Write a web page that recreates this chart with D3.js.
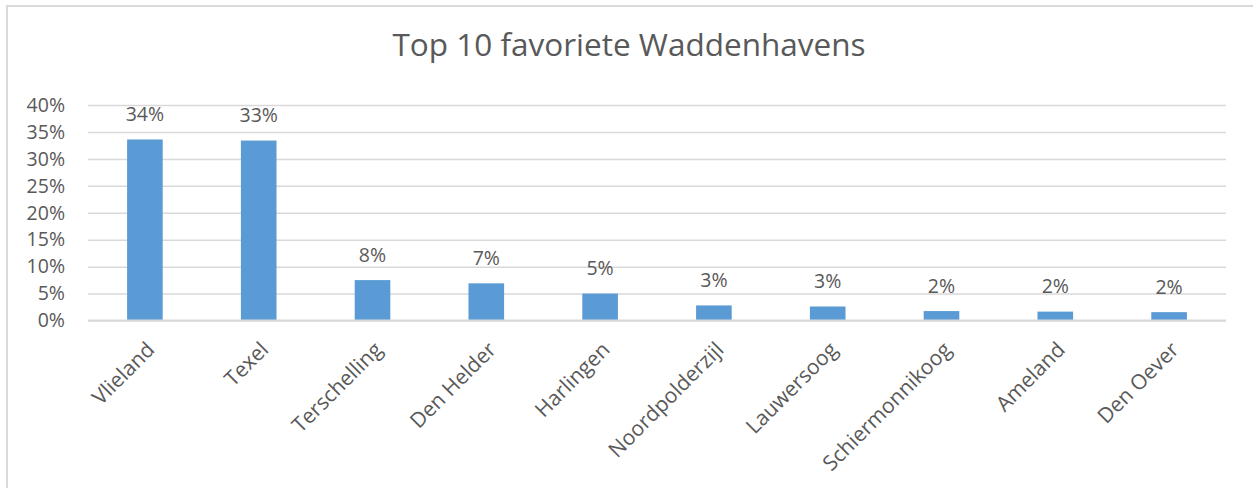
<!DOCTYPE html>
<html>
<head>
<meta charset="utf-8">
<script src="https://cdn.jsdelivr.net/npm/d3@7"></script>
<style>
  body { margin: 0; background: #fff; }
  text { font-family: "Open Sans", sans-serif; fill: #595959; }
</style>
</head>
<body>
<div id="svg_chart"></div>
<script>
// data
var havens = ['Vlieland', 'Texel', 'Terschelling', 'Den Helder', 'Harlingen',
  'Noordpolderzijl', 'Lauwersoog', 'Schiermonnikoog', 'Ameland', 'Den Oever'];
var shares = [33.6, 33.4, 7.5, 6.9, 5.0, 2.8, 2.6, 1.75, 1.65, 1.55];
var y_ticks = [0, 5, 10, 15, 20, 25, 30, 35, 40];
var chart_title = 'Top 10 favoriete Waddenhavens';

const svg_width = 1253
const svg_height = 488
const plot_left = 88
const plot_right = 1226
const plot_top = 105
const plot_bottom = 320.5
const label_size = '19.5px'

var svg = d3.select('#svg_chart').append('svg')
  .attr('width', svg_width)
  .attr('height', svg_height);

// chart border (only top and left visible in the crop)
svg.append('rect')
  .attr('x', 7)
  .attr('y', 6)
  .attr('width', svg_width + 20)
  .attr('height', svg_height + 20)
  .attr('fill', 'none')
  .attr('stroke', '#d9d9d9')
  .attr('stroke-width', 2);

svg.append('text')
  .attr('x', 629)
  .attr('y', 56)
  .attr('text-anchor', 'middle')
  .style('font-size', '31.5px')
  .text(chart_title);

var x_scale = d3.scaleBand()
  .domain(havens)
  .range([plot_left, plot_right])
  .paddingInner(0.687)
  .paddingOuter(0.3435);

var y_scale = d3.scaleLinear()
  .domain([0, 40])
  .range([plot_bottom, plot_top]);

// gridlines + y labels
var y_axis = svg.append('g')
  .attr('transform', `translate(${plot_left},0)`)
  .call(d3.axisLeft(y_scale)
    .tickValues(y_ticks)
    .tickSize(-(plot_right - plot_left))
    .tickPadding(23)
    .tickFormat(d => d + '%'));
y_axis.select('.domain').remove();
y_axis.selectAll('.tick line')
  .attr('stroke', '#d9d9d9')
  .attr('stroke-width', 1.5);
y_axis.selectAll('.tick text')
  .attr('fill', '#595959')
  .style('font-family', '"Open Sans", sans-serif')
  .style('font-size', label_size);

// bars
var center = d => x_scale(d) + x_scale.bandwidth() / 2;
svg.append('g').selectAll('rect')
  .data(havens)
  .join('rect')
  .attr('x', d => x_scale(d))
  .attr('y', (d, i) => y_scale(shares[i]))
  .attr('width', x_scale.bandwidth())
  .attr('height', (d, i) => y_scale(0) - y_scale(shares[i]))
  .attr('fill', '#5b9bd5');

// baseline drawn over bars
svg.append('line')
  .attr('x1', plot_left)
  .attr('x2', plot_right)
  .attr('y1', y_scale(0))
  .attr('y2', y_scale(0))
  .attr('stroke', '#d9d9d9')
  .attr('stroke-width', 2);

// data labels
svg.append('g').selectAll('text')
  .data(havens)
  .join('text')
  .attr('x', d => center(d))
  .attr('y', (d, i) => y_scale(shares[i]) - 18.5)
  .attr('text-anchor', 'middle')
  .style('font-size', label_size)
  .text((d, i) => Math.round(shares[i]) + '%');

// category labels, rotated
svg.append('g').selectAll('text')
  .data(havens)
  .join('text')
  .attr('transform', d => `translate(${center(d) + 11},351) rotate(-45)`)
  .attr('text-anchor', 'end')
  .style('font-size', '21px')
  .text(d => d);
</script>
</body>
</html>
